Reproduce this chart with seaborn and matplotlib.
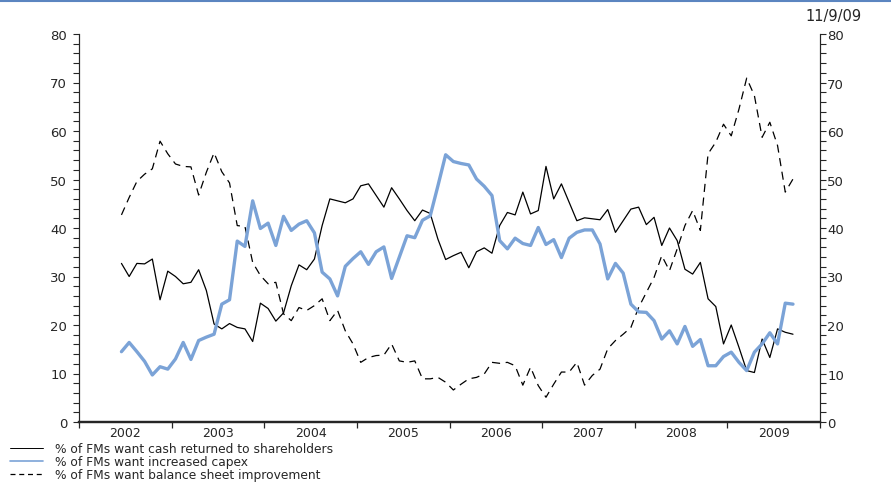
import pandas as pd
import matplotlib
matplotlib.use('Agg')
import matplotlib.pyplot as plt
import seaborn as sns
from matplotlib.lines import Line2D
from matplotlib.ticker import MultipleLocator, FixedLocator, FixedFormatter, NullFormatter

# Monthly survey readings, June 2002 to September 2009 (%)
start_month = '2002-06'
cash_returned = [32.7, 30.0, 32.7, 32.6, 33.6, 25.2, 31.1, 30.0, 28.5, 28.8,
                 31.4, 27.1, 20.2, 19.2, 20.3, 19.5, 19.2, 16.6, 24.5, 23.4,
                 20.8, 22.5, 28.1, 32.4, 31.4, 33.6, 40.5, 46.0, 45.6, 45.2,
                 46.0, 48.7, 49.1, 46.7, 44.3, 48.3, 46.0, 43.6, 41.5, 43.7,
                 43.0, 37.7, 33.5, 34.3, 35.0, 31.8, 35.1, 35.9, 34.8, 40.5,
                 43.2, 42.7, 47.4, 42.9, 43.6, 52.7, 46.0, 49.1, 45.3, 41.5,
                 42.1, 41.9, 41.7, 43.8, 39.1, 41.5, 43.9, 44.3, 40.7, 42.2,
                 36.4, 40.0, 37.4, 31.5, 30.5, 32.9, 25.4, 23.8, 16.1, 20.0,
                 15.4, 10.6, 10.2, 17.1, 13.3, 19.2, 18.5, 18.1]
capex = [14.5, 16.4, 14.5, 12.5, 9.7, 11.4, 10.9, 13.0, 16.4, 12.9,
         16.8, 17.5, 18.1, 24.3, 25.2, 37.3, 36.2, 45.6, 39.9, 41.0,
         36.4, 42.4, 39.5, 40.8, 41.5, 39.0, 30.9, 29.5, 26.0, 32.1,
         33.7, 35.1, 32.5, 35.1, 36.1, 29.6, 34.0, 38.4, 38.0, 41.6,
         42.5, 48.7, 55.1, 53.7, 53.3, 53.0, 50.1, 48.6, 46.7, 37.4,
         35.7, 37.9, 36.8, 36.4, 40.1, 36.6, 37.6, 33.9, 37.9, 39.1,
         39.6, 39.6, 36.7, 29.5, 32.7, 30.7, 24.3, 22.7, 22.6, 20.9,
         17.1, 18.8, 16.1, 19.7, 15.6, 17.0, 11.6, 11.6, 13.5, 14.4,
         12.3, 10.6, 14.4, 16.1, 18.4, 16.1, 24.5, 24.3]
balance_sheet = [42.7, 46.3, 49.6, 51.1, 52.2, 57.9, 55.3, 53.2, 52.7, 52.6,
                 46.8, 51.5, 55.5, 51.6, 49.3, 40.5, 40.3, 32.9, 30.2, 28.5,
                 28.8, 22.3, 20.9, 23.6, 23.0, 24.0, 25.4, 20.9, 23.0, 18.8,
                 16.1, 12.3, 13.3, 13.7, 13.8, 16.1, 12.6, 12.3, 12.6, 8.9,
                 8.9, 9.2, 8.2, 6.6, 7.8, 8.9, 9.2, 9.9, 12.3, 12.1,
                 12.3, 11.6, 7.6, 11.3, 7.5, 5.1, 7.8, 10.3, 10.3, 12.3,
                 7.6, 9.6, 10.9, 15.1, 16.8, 18.1, 19.5, 23.6, 26.7, 29.8,
                 34.3, 31.2, 35.7, 40.5, 43.6, 39.5, 55.3, 57.7, 61.4, 59.0,
                 64.5, 70.9, 67.3, 58.7, 61.8, 57.0, 47.4, 50.1]

years = list(range(2002, 2010))
labels = ['% of FMs want cash returned to shareholders',
          '% of FMs want increased capex',
          '% of FMs want balance sheet improvement']
date_stamp = '11/9/09'

# put each monthly reading in the middle of its month, on a fractional-year axis
dates = pd.date_range(start_month, periods=len(cash_returned), freq='MS')
df = pd.DataFrame({
    't': dates.year + (dates.month - 0.5) / 12,
    'cash': cash_returned,
    'capex': capex,
    'balance': balance_sheet,
})

sns.set_style('ticks')
plt.rcParams['font.family'] = ['DejaVu Sans']

blue = '#7ba3d7'

fig = plt.figure(figsize=(8.91, 4.85), dpi=100)
ax = fig.add_axes([79 / 891, 1 - 423 / 485, (820 - 79) / 891, (423 - 35) / 485])

sns.lineplot(data=df, x='t', y='balance', ax=ax, color='black', lw=0.9,
             linestyle=(0, (6.5, 4.5)), legend=False)
sns.lineplot(data=df, x='t', y='cash', ax=ax, color='black', lw=0.9, legend=False)
sns.lineplot(data=df, x='t', y='capex', ax=ax, color=blue, lw=2.4, legend=False)

ax.set_xlim(years[0], years[-1] + 1)
ax.set_ylim(0, 80)
ax.set_xlabel('')
ax.set_ylabel('')

# year boundaries get the tick marks, the year names sit mid-interval
ax.xaxis.set_major_locator(FixedLocator(years + [years[-1] + 1]))
ax.xaxis.set_major_formatter(NullFormatter())
ax.xaxis.set_minor_locator(FixedLocator([y + 0.5 for y in years]))
ax.xaxis.set_minor_formatter(FixedFormatter([str(y) for y in years]))
ax.tick_params(axis='x', which='major', direction='out', length=4, width=0.9)
ax.tick_params(axis='x', which='minor', length=0, pad=3, labelsize=9)

ax.yaxis.set_major_locator(MultipleLocator(10))
ax.yaxis.set_minor_locator(MultipleLocator(2))
ax.tick_params(axis='y', which='both', direction='out', length=4, width=0.8,
               pad=4.5, labelsize=9.5)

# right-hand copy of the scale
ax2 = ax.twinx()
ax2.set_ylim(0, 80)
ax2.yaxis.set_major_locator(MultipleLocator(10))
ax2.yaxis.set_minor_locator(MultipleLocator(2))
ax2.tick_params(axis='y', which='both', direction='out', length=4, width=0.8,
                pad=1.2, labelsize=9.5)

for a in (ax, ax2):
    a.spines['top'].set_visible(False)
    a.spines['left'].set_linewidth(0.8)
    a.spines['right'].set_linewidth(0.8)
    a.spines['bottom'].set_linewidth(1.6)
    a.grid(False)

handles = [Line2D([], [], color='black', lw=0.7),
           Line2D([], [], color=blue, lw=1.2),
           Line2D([], [], color='black', lw=0.9, linestyle=(0, (4, 3)))]
fig.legend(handles, labels, loc='upper left', bbox_to_anchor=(10 / 891, 1 - 443 / 485),
           frameon=False, fontsize=8.8, handlelength=2.7, handletextpad=0.95,
           labelspacing=0, borderpad=0, borderaxespad=0)

fig.add_artist(Line2D([0, 1], [1 - 1.5 / 485] * 2, color='#5b85c0', lw=1.5,
                      transform=fig.transFigure))
fig.text(862 / 891, 1 - 17 / 485, date_stamp, ha='right', va='center', fontsize=10.5)

fig.savefig('out.png', dpi=100)
